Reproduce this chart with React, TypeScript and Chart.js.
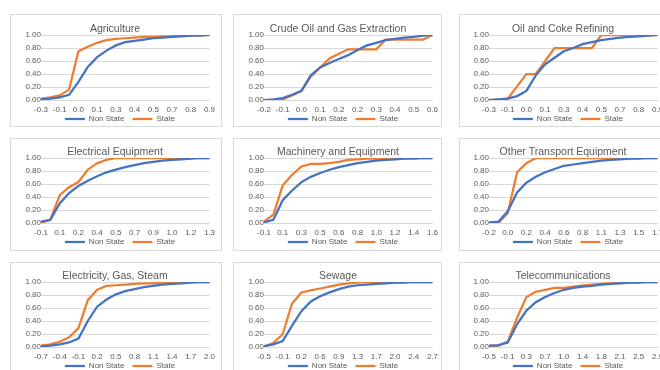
import React, { useEffect, useRef } from 'react';
import { Chart, registerables } from 'chart.js';

Chart.register(...registerables);

const seriesNames = ['Non State', 'State'];
const seriesColors = ['#4472C4', '#ED7D31'];

const agricultureTicks = ['-0.3', '-0.1', '0.0', '0.1', '0.3', '0.4', '0.5', '0.7', '0.8', '0.9'];
const agricultureNonState = [0.01, 0.02, 0.04, 0.08, 0.28, 0.51, 0.66, 0.76, 0.84, 0.89, 0.91, 0.93, 0.95, 0.96, 0.97, 0.98, 0.99, 0.99, 1.0];
const agricultureState = [0.02, 0.04, 0.07, 0.16, 0.75, 0.82, 0.88, 0.92, 0.94, 0.95, 0.96, 0.97, 0.97, 0.98, 0.98, 0.99, 0.99, 1.0, 1.0];

const crudeTicks = ['-0.2', '-0.1', '0.0', '0.1', '0.2', '0.2', '0.3', '0.4', '0.5', '0.6'];
const crudeNonState = [0.0, 0.01, 0.03, 0.08, 0.14, 0.38, 0.5, 0.57, 0.63, 0.69, 0.77, 0.84, 0.88, 0.92, 0.94, 0.96, 0.97, 0.99, 1.0];
const crudeState = [0.0, 0.0, 0.01, 0.07, 0.14, 0.36, 0.5, 0.64, 0.71, 0.78, 0.78, 0.78, 0.78, 0.93, 0.93, 0.93, 0.93, 0.93, 1.0];

const cokeTicks = ['-0.3', '-0.1', '0.0', '0.1', '0.3', '0.4', '0.5', '0.7', '0.8', '0.9'];
const cokeNonState = [0.0, 0.01, 0.02, 0.06, 0.14, 0.38, 0.55, 0.65, 0.75, 0.8, 0.86, 0.89, 0.92, 0.94, 0.96, 0.97, 0.98, 0.99, 1.0];
const cokeState = [0.0, 0.01, 0.02, 0.21, 0.4, 0.4, 0.6, 0.8, 0.8, 0.8, 0.8, 0.8, 1.0, 1.0, 1.0, 1.0, 1.0, 1.0, 1.0];

const electricalTicks = ['-0.1', '0.1', '0.2', '0.4', '0.5', '0.7', '0.9', '1.0', '1.2', '1.3'];
const electricalNonState = [0.02, 0.05, 0.3, 0.46, 0.57, 0.65, 0.72, 0.78, 0.82, 0.86, 0.89, 0.92, 0.94, 0.96, 0.97, 0.98, 0.99, 1.0, 1.0];
const electricalState = [0.0, 0.05, 0.43, 0.55, 0.63, 0.82, 0.92, 0.97, 1.0, 1.0, 1.0, 1.0, 1.0, 1.0, 1.0, 1.0, 1.0, 1.0, 1.0];

const machineryTicks = ['-0.1', '0.1', '0.3', '0.5', '0.6', '0.8', '1.0', '1.2', '1.4', '1.6'];
const machineryNonState = [0.01, 0.05, 0.35, 0.5, 0.63, 0.71, 0.77, 0.82, 0.86, 0.89, 0.92, 0.94, 0.96, 0.97, 0.98, 0.99, 0.99, 1.0, 1.0];
const machineryState = [0.02, 0.13, 0.58, 0.74, 0.87, 0.91, 0.91, 0.92, 0.94, 0.97, 0.98, 0.99, 0.99, 0.99, 1.0, 1.0, 1.0, 1.0, 1.0];

const transportTicks = ['-0.2', '0.0', '0.2', '0.4', '0.6', '0.8', '1.1', '1.3', '1.5', '1.7'];
const transportNonState = [0.01, 0.02, 0.18, 0.47, 0.62, 0.71, 0.78, 0.83, 0.88, 0.9, 0.92, 0.94, 0.96, 0.97, 0.98, 0.99, 0.99, 1.0, 1.0];
const transportState = [0.0, 0.0, 0.15, 0.78, 0.92, 1.0, 1.0, 1.0, 1.0, 1.0, 1.0, 1.0, 1.0, 1.0, 1.0, 1.0, 1.0, 1.0, 1.0];

const electricityTicks = ['-0.7', '-0.4', '-0.1', '0.2', '0.5', '0.8', '1.1', '1.4', '1.7', '2.0'];
const electricityNonState = [0.01, 0.02, 0.04, 0.07, 0.13, 0.4, 0.62, 0.73, 0.81, 0.86, 0.89, 0.92, 0.94, 0.96, 0.97, 0.98, 0.99, 1.0, 1.0];
const electricityState = [0.02, 0.04, 0.08, 0.15, 0.29, 0.72, 0.88, 0.94, 0.95, 0.96, 0.97, 0.98, 0.98, 0.99, 0.99, 1.0, 1.0, 1.0, 1.0];

const sewageTicks = ['-0.5', '-0.1', '0.2', '0.6', '0.9', '1.3', '1.7', '2.0', '2.4', '2.7'];
const sewageNonState = [0.01, 0.04, 0.09, 0.33, 0.55, 0.7, 0.78, 0.84, 0.89, 0.93, 0.95, 0.96, 0.97, 0.98, 0.99, 0.99, 1.0, 1.0, 1.0];
const sewageState = [0.01, 0.06, 0.2, 0.67, 0.84, 0.87, 0.9, 0.93, 0.96, 0.98, 0.99, 1.0, 1.0, 1.0, 1.0, 1.0, 1.0, 1.0, 1.0];

const telecomTicks = ['-0.5', '-0.1', '0.3', '0.7', '1.0', '1.4', '1.8', '2.1', '2.5', '2.9'];
const telecomNonState = [0.02, 0.03, 0.07, 0.35, 0.56, 0.69, 0.77, 0.83, 0.88, 0.91, 0.93, 0.94, 0.96, 0.97, 0.98, 0.99, 0.99, 1.0, 1.0];
const telecomState = [0.01, 0.02, 0.08, 0.45, 0.77, 0.85, 0.88, 0.91, 0.91, 0.93, 0.95, 0.96, 0.97, 0.98, 0.99, 0.99, 1.0, 1.0, 1.0];

const panelTitles = [
  'Agriculture', 'Crude Oil and Gas Extraction', 'Oil and Coke Refining',
  'Electrical Equipment', 'Machinery and Equipment', 'Other Transport Equipment',
  'Electricity, Gas, Steam', 'Sewage', 'Telecommunications',
];
const panelTicks = [agricultureTicks, crudeTicks, cokeTicks, electricalTicks, machineryTicks, transportTicks, electricityTicks, sewageTicks, telecomTicks];
const panelNonState = [agricultureNonState, crudeNonState, cokeNonState, electricalNonState, machineryNonState, transportNonState, electricityNonState, sewageNonState, telecomNonState];
const panelState = [agricultureState, crudeState, cokeState, electricalState, machineryState, transportState, electricityState, sewageState, telecomState];

// layout
const FONT = "'Liberation Sans', Arial, sans-serif";
const colBorderLeft = [10, 233, 459];
const colBorderWidth = [212, 209, 215];
const rowBorderTop = [14, 138, 262];
const borderHeight = 113;
const plotLeft = [41, 264, 489];
const plotTop = [35, 158, 282];
const Y_AXIS_W = 31;
const TITLE_H = 20;
const PLOT_W = 171;
const PLOT_H = 65;
const X_AXIS_H = 13;
const LEGEND_PAD = 8;
const LEGEND_H = 8 + LEGEND_PAD + 10;
const CANVAS_W = Y_AXIS_W + PLOT_W + 8;
const CANVAS_H = TITLE_H + PLOT_H + X_AXIS_H + LEGEND_H;

function buildCategories(ticks: string[]): string[] {
  const out: string[] = [];
  ticks.forEach((t, i) => {
    out.push(t);
    if (i < ticks.length - 1) out.push('');
  });
  return out;
}

// nudges the legend block so it sits closer to the axis, as in the original
const legendNudge = {
  id: 'legendNudge',
  afterLayout(chart: any) {
    const l = chart.legend;
    if (!l) return;
    const dy = -6;
    const dx = 5;
    l.top += dy;
    l.bottom += dy;
    l.left += dx;
    l.right += dx;
  },
};

function ChartPanel({ index }: { index: number }) {
  const ref = useRef<HTMLCanvasElement | null>(null);
  const col = index % 3;
  const row = Math.floor(index / 3);

  useEffect(() => {
    if (!ref.current) return;
    const categories = buildCategories(panelTicks[index]);
    const chart = new Chart(ref.current, {
      type: 'line',
      data: {
        labels: categories,
        datasets: [
          {
            label: seriesNames[0],
            data: panelNonState[index],
            borderColor: seriesColors[0],
            backgroundColor: seriesColors[0],
            borderWidth: 2.25,
            pointRadius: 0,
            tension: 0,
          },
          {
            label: seriesNames[1],
            data: panelState[index],
            borderColor: seriesColors[1],
            backgroundColor: seriesColors[1],
            borderWidth: 2.25,
            pointRadius: 0,
            tension: 0,
          },
        ],
      },
      options: {
        responsive: false,
        animation: false,
        devicePixelRatio: 1,
        layout: { padding: 0 },
        scales: {
          x: {
            type: 'category',
            offset: false,
            grid: { display: false, drawTicks: false },
            border: { display: true, color: '#d9d9d9', width: 1 },
            ticks: {
              autoSkip: false,
              maxRotation: 0,
              minRotation: 0,
              padding: 5,
              color: '#595959',
              font: { size: 8, family: FONT },
              callback: function (this: any, value: any) {
                return this.getLabelForValue(value);
              },
            },
            afterFit: (scale: any) => {
              scale.height = X_AXIS_H;
            },
          },
          y: {
            min: 0,
            max: 1,
            grid: { color: '#d9d9d9', lineWidth: 1, drawTicks: false },
            border: { display: false },
            ticks: {
              stepSize: 0.2,
              padding: 0,
              color: '#595959',
              font: { size: 8, family: FONT },
              callback: (v: any) => Number(v).toFixed(2),
            },
            afterFit: (scale: any) => {
              scale.width = Y_AXIS_W;
            },
          },
        },
        plugins: {
          title: {
            display: true,
            text: panelTitles[index],
            color: '#595959',
            font: { size: 10.5, family: FONT, weight: 'normal', lineHeight: 1.0 },
            padding: { top: 9, bottom: 0.5 },
          },
          legend: {
            display: true,
            position: 'bottom',
            labels: {
              usePointStyle: true,
              pointStyle: 'line',
              pointStyleWidth: 20,
              padding: LEGEND_PAD,
              color: '#595959',
              font: { size: 8, family: FONT },
            },
          },
          tooltip: { enabled: false },
        },
      },
      plugins: [legendNudge],
    } as any);
    return () => chart.destroy();
  }, [index]);

  return (
    <>
      <div
        style={{
          position: 'absolute',
          left: colBorderLeft[col],
          top: rowBorderTop[row],
          width: colBorderWidth[col],
          height: borderHeight,
          border: '1px solid #d9d9d9',
          boxSizing: 'border-box',
          background: '#fff',
        }}
      />
      <canvas
        ref={ref}
        width={CANVAS_W}
        height={CANVAS_H}
        style={{
          position: 'absolute',
          left: plotLeft[col] - Y_AXIS_W,
          top: plotTop[row] - TITLE_H,
          width: CANVAS_W,
          height: CANVAS_H,
        }}
      />
    </>
  );
}

export default function App() {
  return (
    <div
      style={{
        position: 'fixed',
        left: 0,
        top: 0,
        width: 660,
        height: 370,
        overflow: 'hidden',
        background: '#fff',
      }}
    >
      {panelTitles.map((_, i) => (
        <ChartPanel key={i} index={i} />
      ))}
    </div>
  );
}
